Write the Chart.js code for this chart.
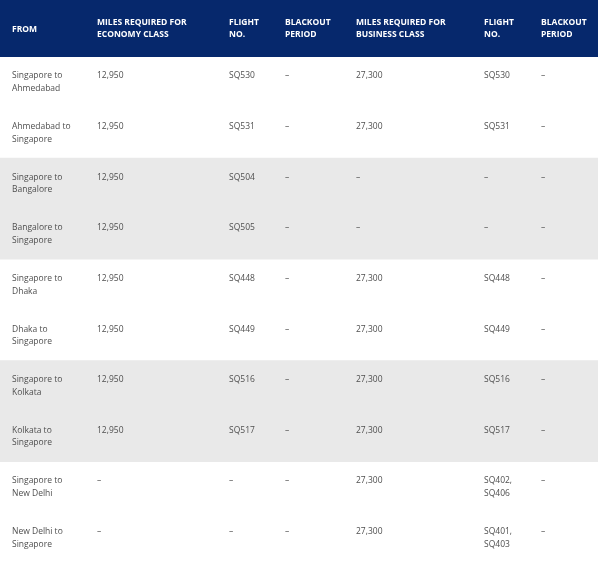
<!DOCTYPE html>
<html>
<head>
<meta charset="utf-8">
<script src="https://cdn.jsdelivr.net/npm/chart.js@4"></script>
<style>
    html, body { margin: 0; padding: 0; background: #ffffff; }
    #wrap { width: 600px; height: 563px; }
</style>
</head>
<body>
<div id="wrap"><canvas id="table" width="600" height="563"></canvas></div>
<script>
// Table content
const columnHeaders = [
    ['FROM'],
    ['MILES REQUIRED FOR', 'ECONOMY CLASS'],
    ['FLIGHT', 'NO.'],
    ['BLACKOUT', 'PERIOD'],
    ['MILES REQUIRED FOR', 'BUSINESS CLASS'],
    ['FLIGHT', 'NO.'],
    ['BLACKOUT', 'PERIOD']
];
const fromCity = ['Singapore', 'Ahmedabad', 'Singapore', 'Bangalore', 'Singapore', 'Dhaka', 'Singapore', 'Kolkata', 'Singapore', 'New Delhi'];
const toCity = ['Ahmedabad', 'Singapore', 'Bangalore', 'Singapore', 'Dhaka', 'Singapore', 'Kolkata', 'Singapore', 'New Delhi', 'Singapore'];
const economyMiles = [12950, 12950, 12950, 12950, 12950, 12950, 12950, 12950, null, null];
const economyFlights = [['SQ530'], ['SQ531'], ['SQ504'], ['SQ505'], ['SQ448'], ['SQ449'], ['SQ516'], ['SQ517'], null, null];
const economyBlackout = [null, null, null, null, null, null, null, null, null, null];
const businessMiles = [27300, 27300, null, null, 27300, 27300, 27300, 27300, 27300, 27300];
const businessFlights = [['SQ530'], ['SQ531'], null, null, ['SQ448'], ['SQ449'], ['SQ516'], ['SQ517'], ['SQ402', 'SQ406'], ['SQ401', 'SQ403']];
const businessBlackout = [null, null, null, null, null, null, null, null, null, null];

// Row bands (in row units, header sits above row 0)
const headerBand = [-1.12, 0];
const shadedBands = [[2, 4], [6, 8]];

// Layout / style
const COLUMN_X = [12, 97, 229, 285, 356, 484, 541];
const NAVY = '#06286c';
const SHADE = '#e9e9e9';
const TEXT = '#4f4f4f';
const DASH = '\u2013';

function formatMiles(v) {
    return v === null ? [DASH] : [v.toLocaleString('en-US')];
}

function flightLines(f) {
    if (!f) return [DASH];
    return f.map((s, i) => i < f.length - 1 ? s + ',' : s);
}

// Build per-row cell text
function buildRows() {
    const rows = [];
    for (let i = 0; i < fromCity.length; i++) {
        rows.push([
            [fromCity[i] + ' to', toCity[i]],
            formatMiles(economyMiles[i]),
            flightLines(economyFlights[i]),
            economyBlackout[i] ? [economyBlackout[i]] : [DASH],
            formatMiles(businessMiles[i]),
            flightLines(businessFlights[i]),
            businessBlackout[i] ? [businessBlackout[i]] : [DASH]
        ]);
    }
    return rows;
}

const cellText = {
    id: 'cellText',
    afterDatasetsDraw(chart) {
        const ctx = chart.ctx;
        const xs = chart.scales.cols;
        const ys = chart.scales.y;
        ctx.save();
        ctx.textBaseline = 'middle';
        ctx.textAlign = 'left';

        // Header
        ctx.fillStyle = '#ffffff';
        ctx.font = 'bold 8.5px "Open Sans", sans-serif';
        columnHeaders.forEach((lines, c) => {
            const x = xs.getPixelForValue(COLUMN_X[c]);
            if (lines.length === 1) {
                ctx.fillText(lines[0], x, ys.getPixelForValue(headerBand[0] + 0.575));
            } else {
                lines.forEach((l, k) => {
                    ctx.fillText(l, x, ys.getPixelForValue(headerBand[0] + 0.445 + k * 0.247));
                });
            }
        });

        // Body
        ctx.fillStyle = TEXT;
        ctx.font = '8.5px "Open Sans", sans-serif';
        buildRows().forEach((cells, r) => {
            cells.forEach((lines, c) => {
                const x = xs.getPixelForValue(COLUMN_X[c]);
                lines.forEach((l, k) => {
                    ctx.fillText(l, x, ys.getPixelForValue(r + 0.38 + k * 0.25));
                });
            });
        });
        ctx.restore();
    }
};

const bandDataset = (range, color) => ({
    data: [range],
    backgroundColor: color,
    borderWidth: 0,
    grouped: false,
    barPercentage: 1,
    categoryPercentage: 1
});

new Chart(document.getElementById('table').getContext('2d'), {
    type: 'bar',
    data: {
        labels: ['table'],
        datasets: [
            bandDataset(headerBand, NAVY),
            ...shadedBands.map(b => bandDataset(b, SHADE))
        ]
    },
    options: {
        responsive: false,
        devicePixelRatio: 1,
        animation: false,
        events: [],
        layout: { padding: { left: 0, right: 2, top: 0, bottom: 0 } },
        plugins: {
            legend: { display: false },
            tooltip: { enabled: false }
        },
        scales: {
            x: { display: false, offset: true },
            cols: { type: 'linear', axis: 'x', display: false, offset: false, min: 0, max: 598 },
            y: { display: false, reverse: true, min: headerBand[0], max: fromCity.length }
        }
    },
    plugins: [cellText]
});
</script>
</body>
</html>
